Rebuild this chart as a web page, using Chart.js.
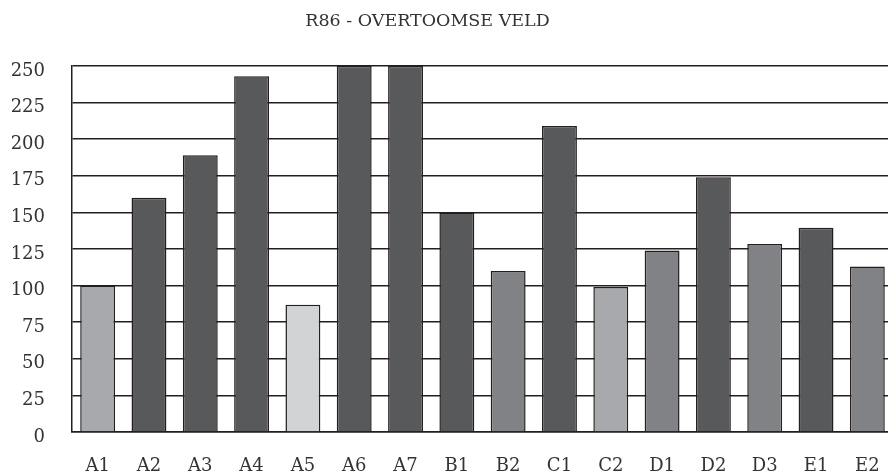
<!DOCTYPE html>
<html>
<head>
<meta charset="utf-8">
<script src="https://cdn.jsdelivr.net/npm/chart.js@4"></script>
<style>
html,body{margin:0;padding:0;background:#fff;overflow:hidden;width:888px;height:472px;}
#wrap{width:893px;height:472px;}
</style>
</head>
<body>
<div id="wrap"><canvas id="c" width="893" height="472"></canvas></div>
<script>
const categories = ['A1','A2','A3','A4','A5','A6','A7','B1','B2','C1','C2','D1','D2','D3','E1','E2'];
const values = [100,160,189,243,87,250,250,150,110,209,99,124,174,128.5,139.5,113];
const barColors = ['#a7a9ac','#58595b','#58595b','#58595b','#d1d3d4','#58595b','#58595b','#58595b','#808285','#58595b','#a7a9ac','#808285','#58595b','#808285','#58595b','#808285'];
const yTicks = [0,25,50,75,100,125,150,175,200,225,250];
const title = 'R86 - OVERTOOMSE VELD';

const FONT = "'DejaVu Serif', 'Liberation Serif', serif";
new Chart(document.getElementById('c'), {
  type: 'bar',
  data: {
    labels: categories,
    datasets: [{
      data: values,
      backgroundColor: barColors,
      borderColor: '#231f20',
      borderWidth: 1.5,
      barPercentage: 0.68,
      categoryPercentage: 1.0
    }]
  },
  options: {
    responsive: false,
    animation: false,
    layout: { padding: { left: -38, right: 0, top: 0, bottom: 0 } },
    plugins: {
      legend: { display: false },
      tooltip: { enabled: false },
      title: {
        display: true,
        text: title,
        color: '#333333',
        font: { family: FONT, size: 17.5, weight: 'normal', lineHeight: 1.2 },
        padding: { top: 11, bottom: 34 }
      }
    },
    scales: {
      x: {
        grid: { display: false, drawTicks: true, tickLength: 24 },
        border: { display: true, color: '#231f20', width: 1.5 },
        ticks: { color: '#333333', font: { family: FONT, size: 18 }, padding: 0, maxRotation: 0, autoSkip: false },
        afterFit: s => { s.height = 40; }
      },
      y: {
        min: 0, max: 250,
        afterBuildTicks: s => { s.ticks = yTicks.map(v => ({ value: v })); },
        grid: { color: '#231f20', lineWidth: 1.5, drawTicks: false },
        border: { display: true, color: '#231f20', width: 1.5 },
        ticks: { color: '#333333', font: { family: FONT, size: 18 }, padding: 27, labelOffset: 5 },
        afterFit: s => { s.width = 110; }
      }
    }
  }
});
</script>
</body>
</html>
